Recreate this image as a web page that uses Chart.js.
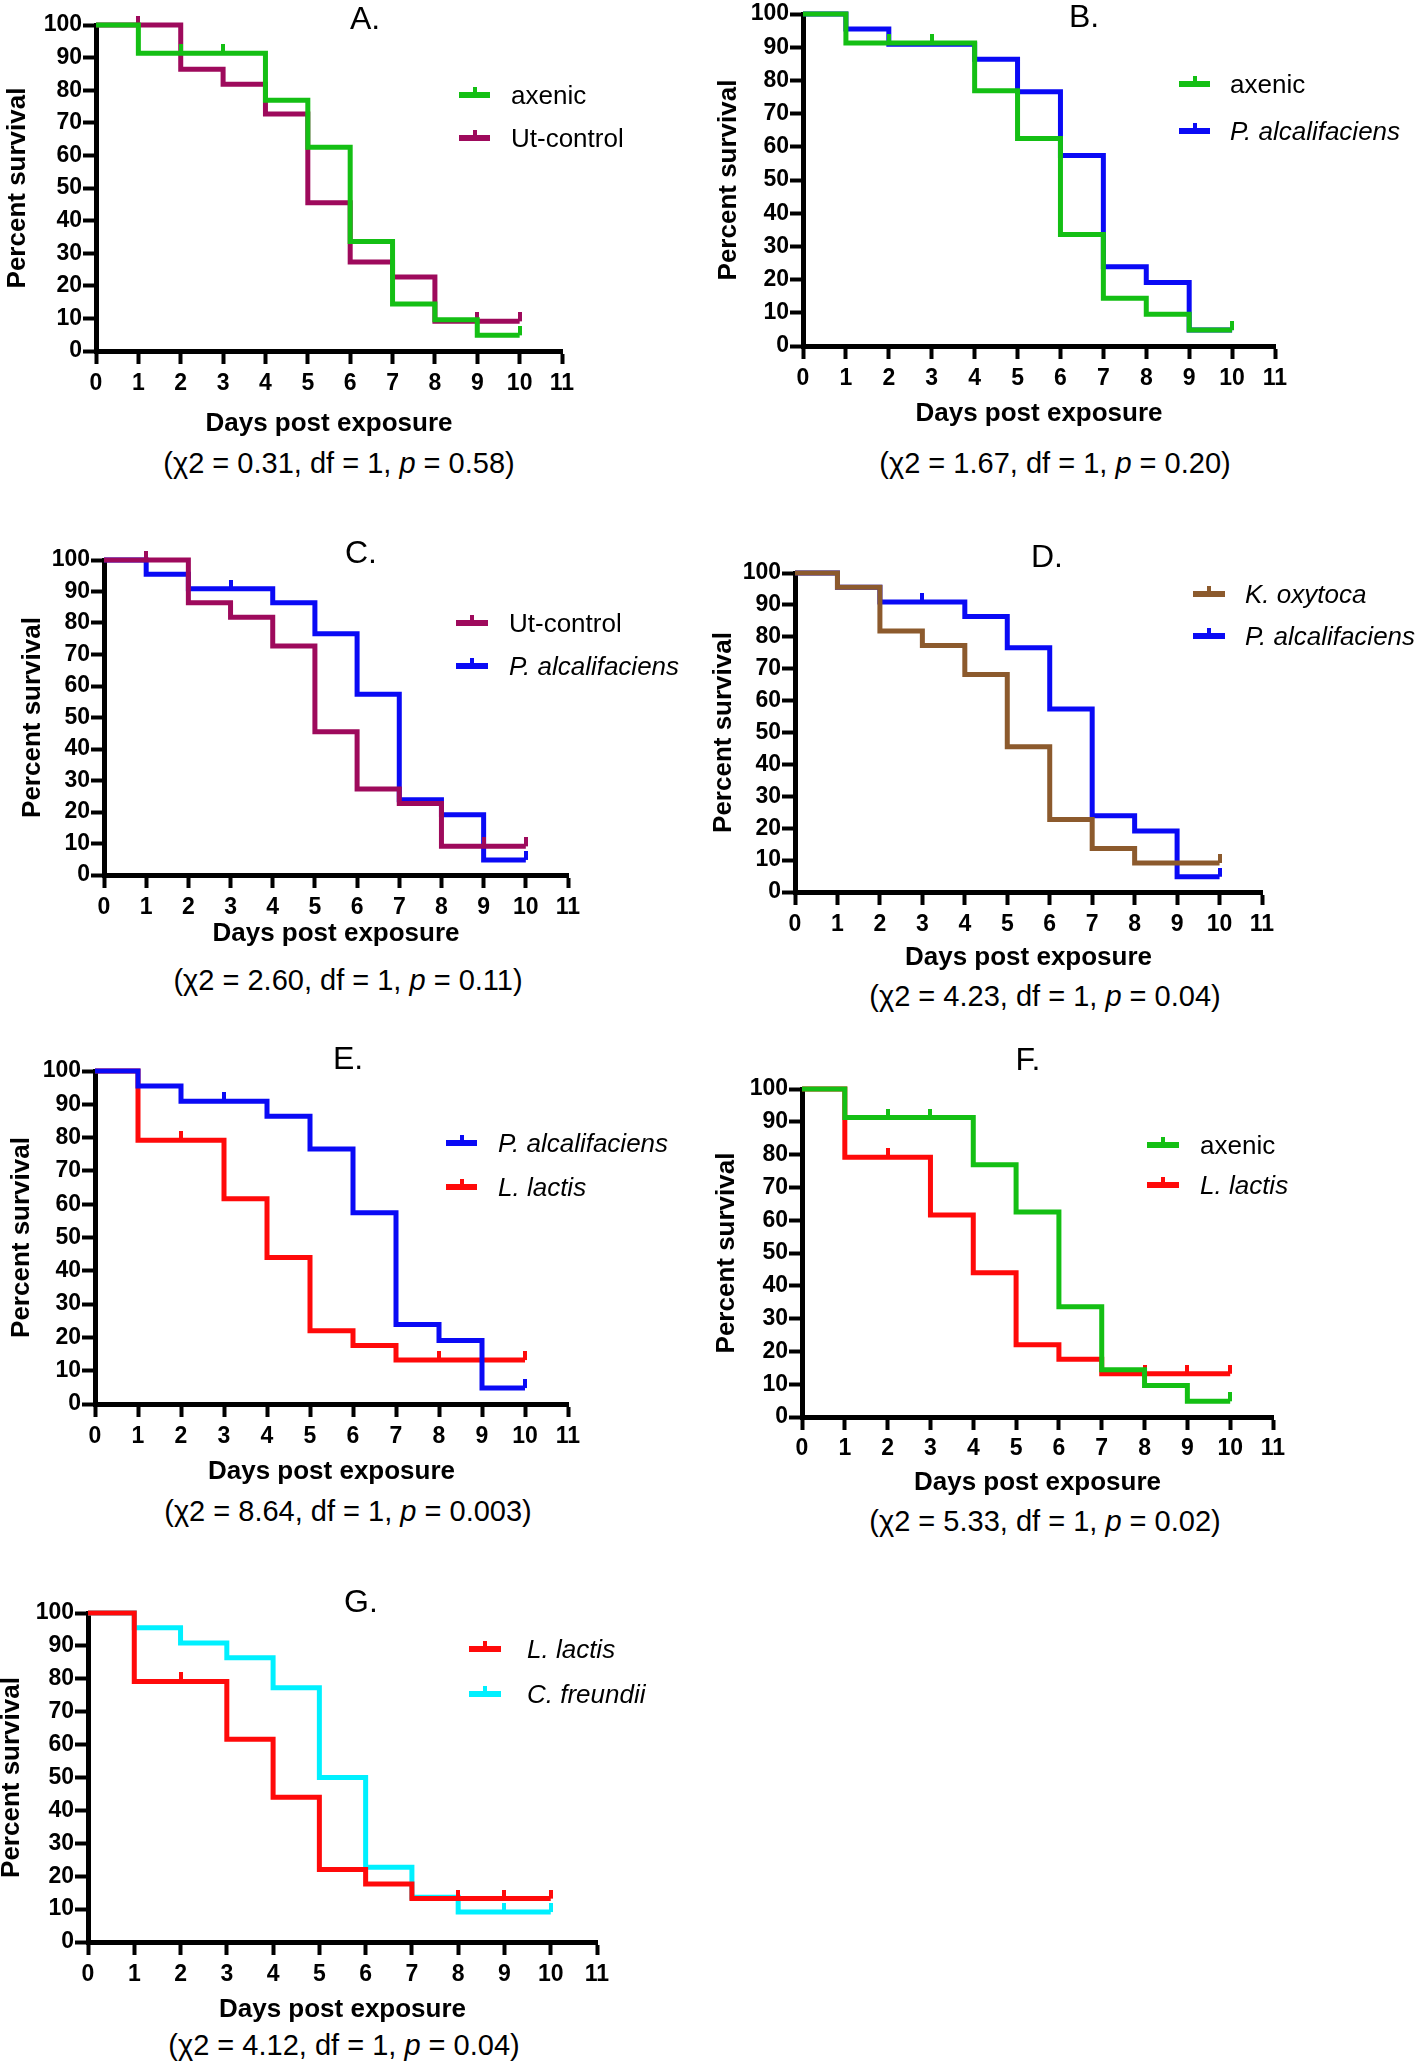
<!DOCTYPE html>
<html>
<head>
<meta charset="utf-8">
<script src="https://cdn.jsdelivr.net/npm/chart.js@4.4.1/dist/chart.umd.min.js"></script>
<style>
  html, body { margin: 0; padding: 0; background: #fff; }
  body { position: relative; width: 1418px; height: 2061px; overflow: hidden; font-family: "Liberation Sans", Arial, sans-serif; color: #000; }
  canvas { position: absolute; }
  .lbl { position: absolute; white-space: nowrap; transform: translate(-50%, -50%); }
  .ptitle { font-size: 32px; }
  .stats { font-size: 29px; }
  .legline { position: absolute; height: 6px; }
  .legline span { position: absolute; left: 50%; top: -5px; width: 4px; height: 6px; margin-left: -2px; background: inherit; }
  .legtext { position: absolute; font-size: 26px; white-space: nowrap; transform: translateY(-50%); }
</style>
</head>
<body>
<script>
// Days post exposure (x values shared by all curves)
const days = [0, 1, 2, 3, 4, 5, 6, 7, 8, 9, 10];

// Kaplan-Meier survival (%) at each day
const axenicSurvival    = [100, 91.3, 91.3, 91.3, 76.9, 62.5, 33.6, 14.4, 9.6, 4.8, 4.8];
const utControlSurvival = [100, 100, 86.4, 81.8, 72.7, 45.5, 27.3, 22.7, 9.1, 9.1, 9.1];
const pAlcSurvival      = [100, 95.5, 90.9, 90.9, 86.4, 76.6, 57.4, 23.9, 19.1, 4.8, 4.8];
const kOxySurvival      = [100, 95.5, 81.8, 77.3, 68.2, 45.5, 22.7, 13.6, 9.1, 9.1, 9.1];
const lLactisSurvival   = [100, 79.2, 79.2, 61.6, 44.0, 22.0, 17.6, 13.2, 13.2, 13.2, 13.2];
const cFreSurvival      = [100, 95.5, 90.9, 86.4, 77.3, 50.0, 22.7, 13.6, 9.1, 9.1, 9.1];

// Days with a censor tick
const axenicCensored    = [2, 3, 10];
const utControlCensored = [1, 9, 10];
const pAlcCensored      = [3, 10];
const kOxyCensored      = [10];
const lLactisCensored   = [2, 8, 9, 10];
const cFreCensored      = [9, 10];

// Axis ticks
const xTicks = [0, 1, 2, 3, 4, 5, 6, 7, 8, 9, 10, 11];
const yTicks = [0, 10, 20, 30, 40, 50, 60, 70, 80, 90, 100];

// Log-rank results per panel
const panelLetters = ["A.", "B.", "C.", "D.", "E.", "F.", "G."];
const chiValues = ["0.31", "1.67", "2.60", "4.23", "8.64", "5.33", "4.12"];
const pValues   = ["0.58", "0.20", "0.11", "0.04", "0.003", "0.02", "0.04"];

const series = {
  axenic:  { label: "axenic", italic: false, color: "#14bf14", surv: axenicSurvival, cens: axenicCensored },
  ut:      { label: "Ut-control", italic: false, color: "#9e0a5c", surv: utControlSurvival, cens: utControlCensored },
  pal:     { label: "P. alcalifaciens", italic: true, color: "#0a0af5", surv: pAlcSurvival, cens: pAlcCensored },
  kox:     { label: "K. oxytoca", italic: true, color: "#8c5a2d", surv: kOxySurvival, cens: kOxyCensored },
  lla:     { label: "L. lactis", italic: true, color: "#ff0a0a", surv: lLactisSurvival, cens: lLactisCensored },
  cfr:     { label: "C. freundii", italic: true, color: "#00f0ff", surv: cFreSurvival, cens: cFreCensored },
};

// Layout of each panel (page pixels)
const panels = [
  { s: ["axenic", "ut"],  ax: 96,  top: 25,   right: 562,  bottom: 351,  tX: 365,  tY: 18,   ytX: 18,  tickY: 384,  xtY: 423,  sX: 339,  sY: 463,  lx1: 459,  lx2: 490,  ly: [95, 138],    ltx: 511 },
  { s: ["axenic", "pal"], ax: 803, top: 14,   right: 1275, bottom: 346,  tX: 1084, tY: 16,   ytX: 729, tickY: 379,  xtY: 413,  sX: 1055, sY: 463,  lx1: 1179, lx2: 1210, ly: [84, 131],    ltx: 1230 },
  { s: ["ut", "pal"],     ax: 104, top: 560,  right: 568,  bottom: 875,  tX: 361,  tY: 552,  ytX: 33,  tickY: 908,  xtY: 933,  sX: 348,  sY: 980,  lx1: 456,  lx2: 488,  ly: [623, 666],   ltx: 509 },
  { s: ["kox", "pal"],    ax: 795, top: 573,  right: 1262, bottom: 892,  tX: 1047, tY: 556,  ytX: 724, tickY: 925,  xtY: 957,  sX: 1045, sY: 996,  lx1: 1193, lx2: 1225, ly: [594, 636],   ltx: 1245 },
  { s: ["pal", "lla"],    ax: 95,  top: 1071, right: 568,  bottom: 1404, tX: 348,  tY: 1058, ytX: 22,  tickY: 1437, xtY: 1471, sX: 348,  sY: 1511, lx1: 446,  lx2: 477,  ly: [1143, 1187], ltx: 498 },
  { s: ["axenic", "lla"], ax: 802, top: 1089, right: 1273, bottom: 1417, tX: 1028, tY: 1059, ytX: 727, tickY: 1449, xtY: 1482, sX: 1045, sY: 1521, lx1: 1147, lx2: 1179, ly: [1145, 1185], ltx: 1200 },
  { s: ["lla", "cfr"],    ax: 88,  top: 1613, right: 597,  bottom: 1942, tX: 361,  tY: 1601, ytX: 12,  tickY: 1975, xtY: 2009, sX: 344,  sY: 2045, lx1: 469,  lx2: 501,  ly: [1649, 1694], ltx: 527 },
];

// censor tick drawn upward from the curve
function censorMark(color) {
  const c = document.createElement("canvas");
  c.width = 4; c.height = 18;
  const g = c.getContext("2d");
  g.fillStyle = color;
  g.fillRect(0, 0, 4, 9);
  return c;
}

function addDiv(cls, html, css) {
  const d = document.createElement("div");
  d.className = cls;
  d.innerHTML = html;
  Object.assign(d.style, css);
  document.body.appendChild(d);
  return d;
}

Chart.defaults.font.family = '"Liberation Sans", Arial, sans-serif';
Chart.defaults.color = "#000";

const TICK_LEN = 13;
const TICK_FONT = 23;

panels.forEach((p, i) => {
  const YW = p.ax - p.ytX + 16;
  const PT = 24, PR = 26;
  const XH = p.xtY + 18 - p.bottom;
  const cl = p.ax - YW, ct = p.top - PT;
  const cw = (p.right - p.ax) + YW + PR;
  const ch = (p.bottom - p.top) + PT + XH;

  const cv = document.createElement("canvas");
  cv.width = cw; cv.height = ch;
  cv.style.left = cl + "px"; cv.style.top = ct + "px";
  document.body.appendChild(cv);

  const datasets = p.s.map(key => {
    const sr = series[key];
    return {
      label: sr.label,
      data: days.map((d, k) => ({ x: d, y: sr.surv[k] })),
      stepped: true,
      borderColor: sr.color,
      borderWidth: 5,
      fill: false,
      clip: false,
      pointStyle: censorMark(sr.color),
      pointRadius: days.map(d => sr.cens.includes(d) ? 4 : 0),
      pointHoverRadius: 0,
    };
  });

  new Chart(cv, {
    type: "line",
    data: { datasets },
    options: {
      responsive: false,
      animation: false,
      devicePixelRatio: 1,
      events: [],
      layout: { padding: { top: PT, right: PR, left: 0, bottom: 0 } },
      plugins: { legend: { display: false }, tooltip: { enabled: false } },
      scales: {
        x: {
          type: "linear", min: 0, max: 11,
          afterFit: s => { s.height = XH; },
          afterBuildTicks: s => { s.ticks = xTicks.map(v => ({ value: v })); },
          ticks: { autoSkip: false, font: { size: TICK_FONT, weight: "bold" }, padding: p.tickY - p.bottom - TICK_LEN - TICK_FONT * 0.6, maxRotation: 0 },
          grid: { drawOnChartArea: false, drawTicks: true, tickLength: TICK_LEN, tickWidth: 4, tickColor: "#000" },
          border: { display: true, color: "#000", width: 5 },
          title: { display: true, text: "Days post exposure", font: { size: 26, weight: "bold" }, padding: { top: 0, bottom: 2 } },
        },
        y: {
          type: "linear", min: 0, max: 100,
          afterFit: s => { s.width = YW; },
          afterBuildTicks: s => { s.ticks = yTicks.map(v => ({ value: v })); },
          ticks: { autoSkip: false, font: { size: TICK_FONT, weight: "bold" }, padding: 1 },
          grid: { drawOnChartArea: false, drawTicks: true, tickLength: TICK_LEN, tickWidth: 4, tickColor: "#000" },
          border: { display: true, color: "#000", width: 5 },
          title: { display: true, text: "Percent survival", font: { size: 26, weight: "bold" }, padding: { top: 0, bottom: 0 } },
        },
      },
    },
  });

  // panel letter and log-rank line
  addDiv("lbl ptitle", panelLetters[i], { left: p.tX + "px", top: p.tY + "px" });
  addDiv("lbl stats", `(χ2 = ${chiValues[i]}, df = 1, <i>p</i> = ${pValues[i]})`, { left: p.sX + "px", top: p.sY + "px" });

  // legend
  p.s.forEach((key, k) => {
    const sr = series[key];
    addDiv("legline", "<span></span>", {
      left: p.lx1 + "px", width: (p.lx2 - p.lx1) + "px", top: (p.ly[k] - 3) + "px", background: sr.color,
    });
    addDiv("legtext", sr.italic ? `<i>${sr.label}</i>` : sr.label, { left: p.ltx + "px", top: p.ly[k] + "px" });
  });
});
</script>
</body>
</html>
